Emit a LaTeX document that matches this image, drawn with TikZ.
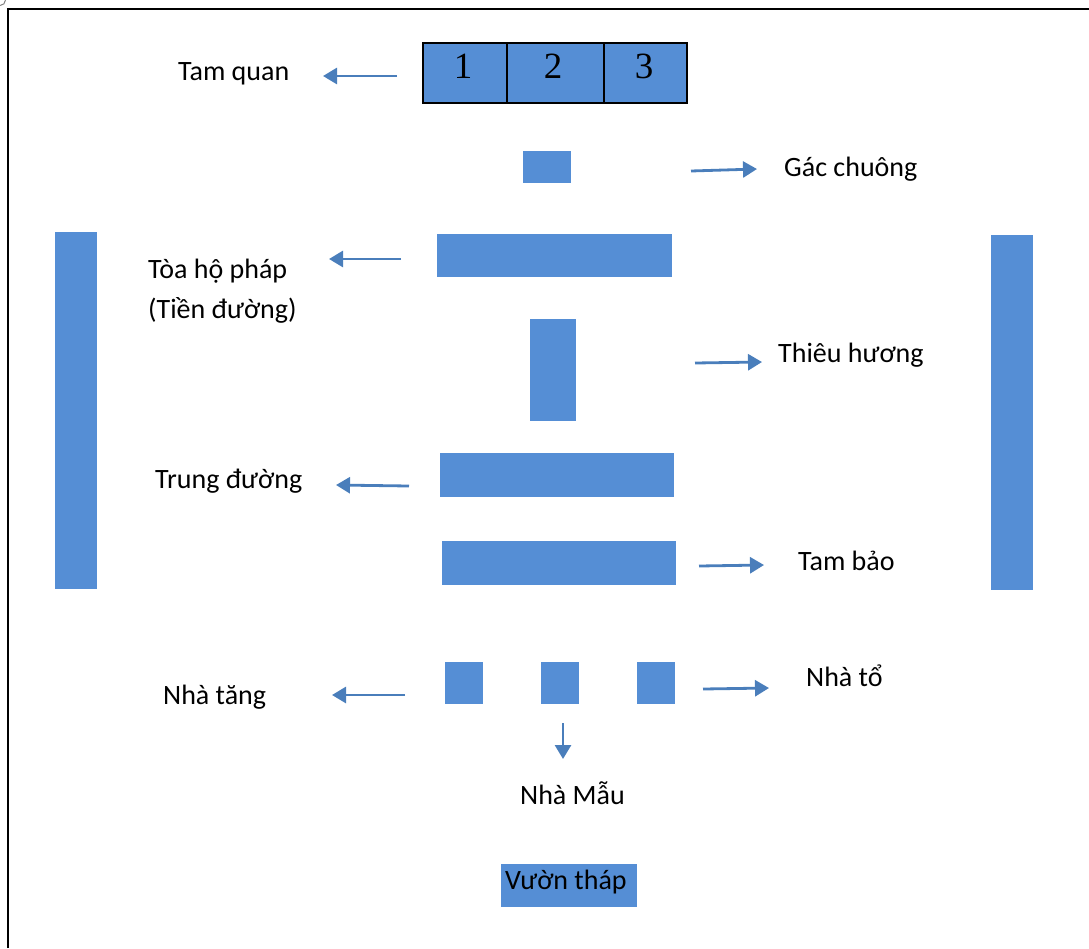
\documentclass[tikz,border=0pt]{standalone}
\usepackage{fontspec}
\setmainfont{Carlito}
\newfontfamily\digitfont{Liberation Serif}
\usetikzlibrary{arrows.meta}
\definecolor{blockblue}{HTML}{558ED5}
\definecolor{arrowblue}{HTML}{4A7EBB}
\tikzset{
  blk/.style={fill=blockblue, draw=none, inner sep=0pt, anchor=north west},
  gate/.style={fill=blockblue, draw=black, line width=1.8pt, inner sep=0pt,
               minimum height=60pt, anchor=north west},
  lbl/.style={inner sep=0pt, anchor=base west, font=\fontsize{28}{40}\selectfont},
  num/.style={inner sep=0pt, anchor=base, font=\digitfont\fontsize{37}{40}\selectfont},
  pointer/.style={draw=arrowblue, line width=2.8pt,
                  -{Triangle[length=14pt,width=16pt]}},
}
\begin{document}
\begin{tikzpicture}[x=1pt,y=-1pt]
\useasboundingbox (0,0) rectangle (1089,948);

% page frame
\draw[line width=2pt] (8,948) -- (8,9) -- (1089,9);
\draw[gray, line width=1pt] (0,5.5) arc[start angle=90, end angle=0, radius=5.5];

% Tam quan: three-bay gate
\node[gate, minimum width=84pt]  (g1) at (422,42) {};
\node[gate, minimum width=97pt]  (g2) at (506,42) {};
\node[gate, minimum width=83pt]  (g3) at (603,42) {};
\node[num] at (463,78) {1};
\node[num] at (553,78) {2};
\node[num] at (644,78) {3};

% buildings along the axis
\node[blk, minimum width=48pt,  minimum height=32pt]  (bell)   at (523,151) {};
\node[blk, minimum width=235pt, minimum height=43pt]  (front)  at (437,234) {};
\node[blk, minimum width=46pt,  minimum height=102pt] (incense) at (530,319) {};
\node[blk, minimum width=234pt, minimum height=44pt]  (middle) at (440,453) {};
\node[blk, minimum width=234pt, minimum height=44pt]  (main)   at (442,541) {};

% side wings
\node[blk, minimum width=42pt, minimum height=357pt] (wingL) at (55,232) {};
\node[blk, minimum width=42pt, minimum height=355pt] (wingR) at (991,235) {};

% rear houses
\node[blk, minimum width=38pt, minimum height=42pt] (monks)  at (445,662) {};
\node[blk, minimum width=38pt, minimum height=42pt] (mother) at (541,662) {};
\node[blk, minimum width=38pt, minimum height=42pt] (patr)   at (637,662) {};

% stupa garden
\node[blk, minimum width=136pt, minimum height=43pt] (garden) at (501,864) {};
\node[lbl] (tgarden) at (505,889) {Vườn tháp};

% labels
\node[lbl] (tgate)    at (178,80)  {Tam quan};
\node[lbl] (tbell)    at (784,176) {Gác chuông};
\node[lbl] (tfront)   at (148,278) {Tòa hộ pháp};
\node[lbl] (tfront2)  at (148,318) {(Tiền đường)};
\node[lbl] (tincense) at (778,362) {Thiêu hương};
\node[lbl] (tmiddle)  at (155,488) {Trung đường};
\node[lbl] (tmain)    at (798,570) {Tam bảo};
\node[lbl] (tmonks)   at (163,704) {Nhà tăng};
\node[lbl] (tpatr)    at (806,686) {Nhà tổ};
\node[lbl] (tmother)  at (520,804) {Nhà Mẫu};

% arrow end points
\coordinate (a1s) at (397,76);  \coordinate (a1e) at (323,76);
\coordinate (a2s) at (691,171); \coordinate (a2e) at (757,169);
\coordinate (a3s) at (401,259); \coordinate (a3e) at (329,259);
\coordinate (a4s) at (695,363); \coordinate (a4e) at (762,362);
\coordinate (a5s) at (409,486); \coordinate (a5e) at (336,485);
\coordinate (a6s) at (699,566); \coordinate (a6e) at (764,565);
\coordinate (a7s) at (405,695); \coordinate (a7e) at (332,695);
\coordinate (a8s) at (703,689); \coordinate (a8e) at (769,688);
\coordinate (a9s) at (563,723); \coordinate (a9e) at (563,759);

\draw[pointer] (a1s) -- (a1e);
\draw[pointer] (a2s) -- (a2e);
\draw[pointer] (a3s) -- (a3e);
\draw[pointer] (a4s) -- (a4e);
\draw[pointer] (a5s) -- (a5e);
\draw[pointer] (a6s) -- (a6e);
\draw[pointer] (a7s) -- (a7e);
\draw[pointer] (a8s) -- (a8e);
\draw[pointer] (a9s) -- (a9e);
\end{tikzpicture}
\end{document}
